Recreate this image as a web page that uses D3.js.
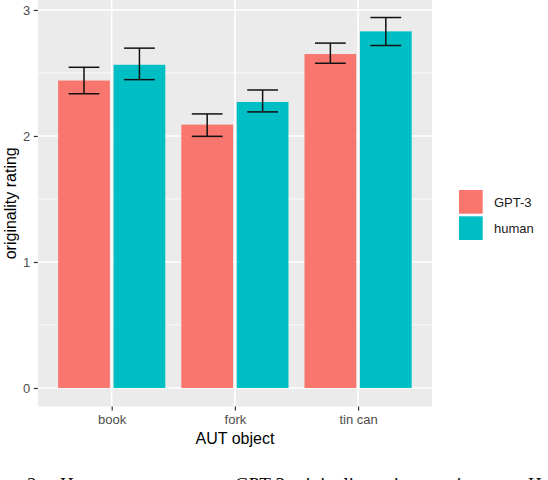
<!DOCTYPE html>
<html>
<head>
<meta charset="utf-8">
<script src="https://cdn.jsdelivr.net/npm/d3@7"></script>
<style>
  html, body { margin: 0; padding: 0; background: #ffffff; }
  svg { display: block; }
</style>
</head>
<body>
<svg id="chart"></svg>
<script>
// Data
const objects = ["book", "fork", "tin can"];
const groups = ["GPT-3", "human"];
const gptMean = [2.44, 2.09, 2.65];
const gptLow = [2.335, 1.997, 2.577];
const gptHigh = [2.545, 2.175, 2.737];
const humanMean = [2.565, 2.27, 2.83];
const humanLow = [2.447, 2.191, 2.718];
const humanHigh = [2.697, 2.365, 2.94];
const yTicks = [0, 1, 2, 3];
const yMinor = [0.5, 1.5, 2.5];
const colors = ["#F8766D", "#00BFC4"];

// long table built from the arrays
const rows = [];
objects.forEach((o, i) => {
    rows.push({ object: o, group: "GPT-3", mean: gptMean[i], lo: gptLow[i], hi: gptHigh[i] });
    rows.push({ object: o, group: "human", mean: humanMean[i], lo: humanLow[i], hi: humanHigh[i] });
});

const W = 548, H = 480;
const panel = { left: 37.8, right: 432, top: -1, bottom: 406.5 };

const svg = d3.select("#chart")
    .attr("width", W)
    .attr("height", H)
    .style("font-family", "'Liberation Sans', Arial, sans-serif");

// ggplot style: 5% expansion on continuous axis, 0.6 on discrete
const yMax = d3.max(rows, d => d.hi);
const y = d3.scaleLinear()
    .domain([0 - 0.05 * yMax, yMax * 1.05])
    .range([panel.bottom, panel.top]);

const x = d3.scalePoint()
    .domain(objects)
    .range([panel.left, panel.right])
    .padding(0.6);
const step = x.step();

const xSub = d3.scaleBand()
    .domain(groups)
    .range([-0.45 * step, 0.45 * step]);
const barW = 0.42 * step;
const capW = 0.25 * step;
const color = d3.scaleOrdinal().domain(groups).range(colors);

// panel background
svg.append("rect")
    .attr("x", panel.left)
    .attr("y", 0)
    .attr("width", panel.right - panel.left)
    .attr("height", panel.bottom)
    .attr("fill", "#EBEBEB");

// grid lines
svg.append("g").selectAll("line")
    .data(yMinor)
    .enter().append("line")
    .attr("x1", panel.left).attr("x2", panel.right)
    .attr("y1", d => y(d)).attr("y2", d => y(d))
    .attr("stroke", "#ffffff").attr("stroke-width", 0.8);

svg.append("g").selectAll("line")
    .data(yTicks)
    .enter().append("line")
    .attr("x1", panel.left).attr("x2", panel.right)
    .attr("y1", d => y(d)).attr("y2", d => y(d))
    .attr("stroke", "#ffffff").attr("stroke-width", 1.6);

svg.append("g").selectAll("line")
    .data(objects)
    .enter().append("line")
    .attr("x1", d => x(d)).attr("x2", d => x(d))
    .attr("y1", 0).attr("y2", panel.bottom)
    .attr("stroke", "#ffffff").attr("stroke-width", 1.6);

// bars
svg.append("g").selectAll("rect")
    .data(rows)
    .enter().append("rect")
    .attr("x", d => x(d.object) + xSub(d.group) + xSub.bandwidth() / 2 - barW / 2)
    .attr("y", d => y(d.mean))
    .attr("width", barW)
    .attr("height", d => y(0) - y(d.mean))
    .attr("fill", d => color(d.group));

// error bars
const err = svg.append("g").selectAll("g")
    .data(rows)
    .enter().append("g")
    .attr("transform", d => "translate(" + (x(d.object) + xSub(d.group) + xSub.bandwidth() / 2) + ",0)")
    .attr("stroke", "#111111")
    .attr("stroke-width", 1.5);

err.append("line")
    .attr("x1", 0).attr("x2", 0)
    .attr("y1", d => y(d.lo)).attr("y2", d => y(d.hi));
err.append("line")
    .attr("x1", -capW / 2).attr("x2", capW / 2)
    .attr("y1", d => y(d.hi)).attr("y2", d => y(d.hi));
err.append("line")
    .attr("x1", -capW / 2).attr("x2", capW / 2)
    .attr("y1", d => y(d.lo)).attr("y2", d => y(d.lo));

// y axis
const yAxis = svg.append("g")
    .attr("transform", "translate(" + panel.left + ",0)")
    .call(d3.axisLeft(y).tickValues(yTicks).tickSize(4.1).tickPadding(3.6).tickFormat(d3.format("d")));
yAxis.select(".domain").remove();
yAxis.selectAll("line").attr("stroke", "#333333").attr("stroke-width", 1.2);
yAxis.selectAll("text")
    .attr("fill", "#4D4D4D")
    .style("font-size", "13px")
    .style("font-family", "'Liberation Sans', Arial, sans-serif");

// x axis
const xAxis = svg.append("g")
    .attr("transform", "translate(0," + panel.bottom + ")")
    .call(d3.axisBottom(x).tickSize(4.1).tickPadding(4));
xAxis.select(".domain").remove();
xAxis.selectAll("line").attr("stroke", "#333333").attr("stroke-width", 1.2);
xAxis.selectAll("text")
    .attr("fill", "#4D4D4D")
    .style("font-size", "13px")
    .style("font-family", "'Liberation Sans', Arial, sans-serif");

// axis titles
svg.append("text")
    .attr("x", (panel.left + panel.right) / 2)
    .attr("y", 444)
    .attr("text-anchor", "middle")
    .style("font-size", "16px")
    .text("AUT object");

svg.append("text")
    .attr("transform", "translate(16," + (panel.bottom / 2) + ") rotate(-90)")
    .attr("text-anchor", "middle")
    .style("font-size", "16px")
    .text("originality rating");

// legend
const legend = svg.append("g")
    .attr("transform", "translate(459,190)");
const item = legend.selectAll("g")
    .data(groups)
    .enter().append("g")
    .attr("transform", (d, i) => "translate(0," + (i * 26.3) + ")");
item.append("rect")
    .attr("width", 23.7)
    .attr("height", 23.7)
    .attr("fill", d => color(d));
item.append("text")
    .attr("x", 35)
    .attr("y", 12)
    .attr("dy", "0.35em")
    .style("font-size", "13px")
    .attr("fill", "#1a1a1a")
    .text(d => d);

// caption line of the source page, cut off by the bottom edge as in the reference
const cap = svg.append("text")
    .attr("y", 490.5)
    .style("font-family", "'Liberation Serif', 'Times New Roman', serif")
    .style("font-size", "19px")
    .attr("fill", "#000000");
cap.append("tspan").attr("x", 27).text("2:");
cap.append("tspan").attr("x", 60).text("Here we compare");
cap.append("tspan").attr("x", 235).text("GPT-3 originality ratings against");
cap.append("tspan").attr("x", 528).text("Human");
</script>
</body>
</html>
